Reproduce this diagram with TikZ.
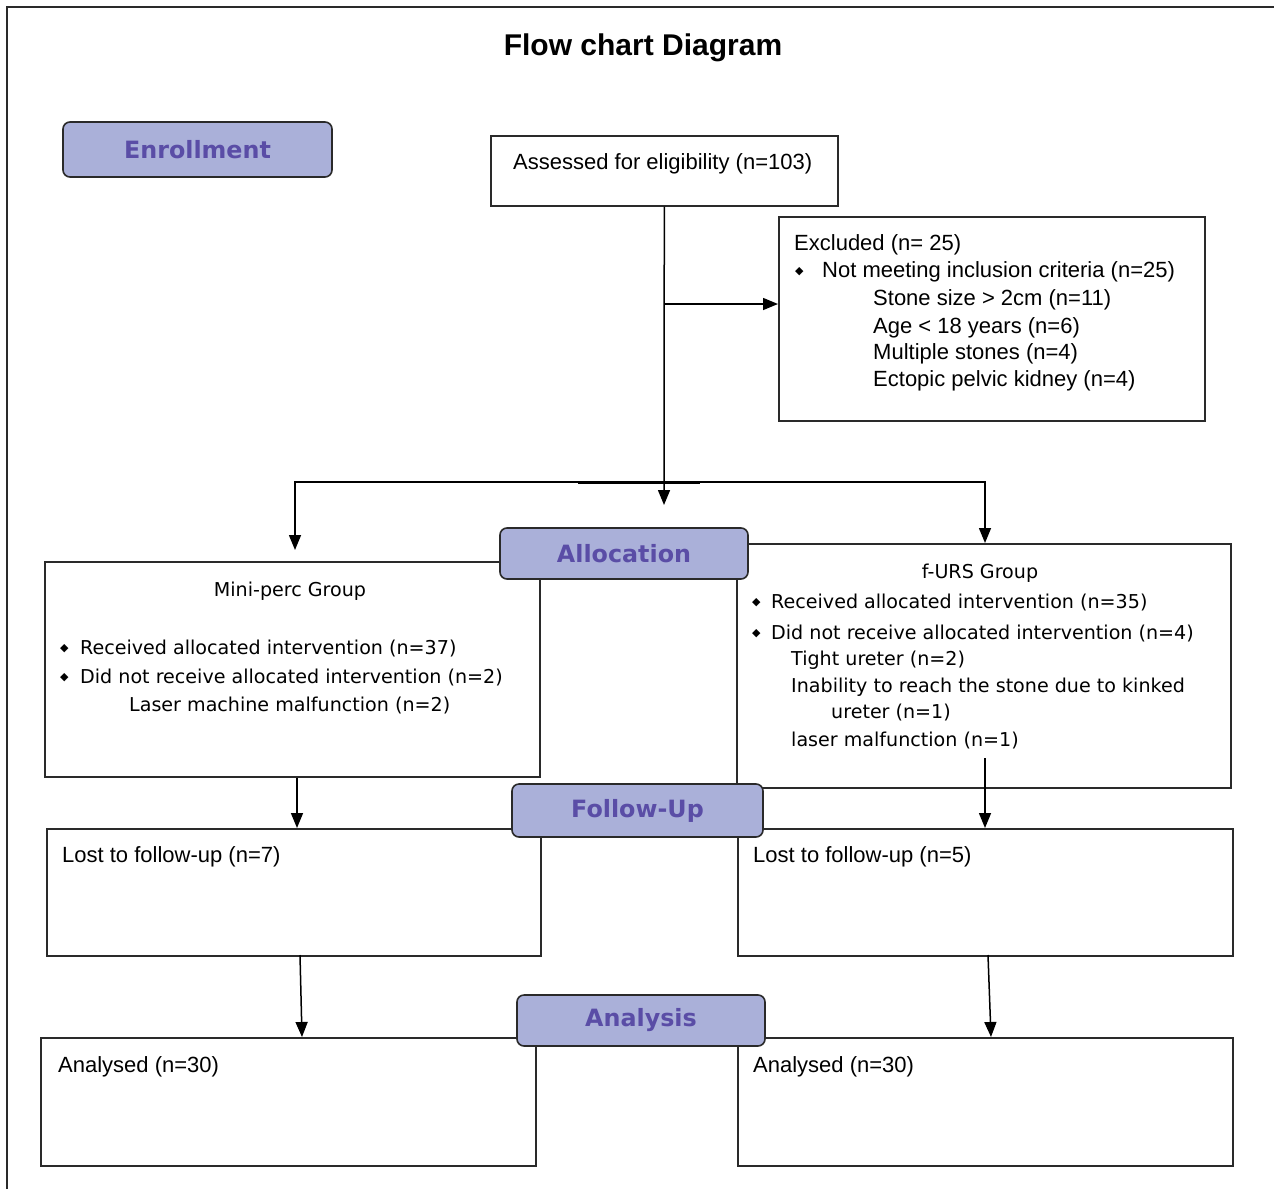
\documentclass[tikz,border=0pt]{standalone}
\usepackage{fontspec}
\setmainfont{Liberation Sans}
\newfontfamily\dvs{DejaVu Sans}
\usetikzlibrary{arrows.meta}
\definecolor{labfill}{HTML}{AAB0D9}
\definecolor{labtext}{HTML}{5A4DA6}
\definecolor{edgec}{HTML}{2A2A2A}
\newcommand{\mybul}[1]{\makebox[#1][l]{\raisebox{2.5pt}{\dvs\fontsize{11}{11}\selectfont ◆}}}
\begin{document}
\begin{tikzpicture}[x=1pt,y=-1pt,
  box/.style={draw=edgec,line width=1.6pt,anchor=north west,inner sep=0pt},
  lab/.style={draw=edgec,line width=1.6pt,fill=labfill,rounded corners=7pt,text=labtext,
     font=\dvs\bfseries\fontsize{23.8}{26}\selectfont,inner sep=0pt},
  txt/.style={anchor=base west,inner sep=0pt,font=\fontsize{22}{26}\selectfont},
  gtxt/.style={anchor=base west,inner sep=0pt,font=\dvs\fontsize{19.1}{24}\selectfont},
  conn/.style={draw=black,line width=1.5pt},
  arr/.style={conn,-{Triangle[length=15pt,width=12pt]}}]
\useasboundingbox (0,0) rectangle (1274,1189);
\draw[edgec,line width=1.5pt] (7,1189) -- (7,7) -- (1274,7);

\node[anchor=base,inner sep=0pt,font=\bfseries\fontsize{30}{34}\selectfont] (title) at (643,55) {Flow chart Diagram};

% boxes
\node[box,minimum width=347pt,minimum height=70pt] (assess) at (490,135) {};
\node[box,minimum width=426pt,minimum height=204pt] (excl) at (778,216) {};
\node[box,minimum width=495pt,minimum height=215pt] (mini) at (44,561) {};
\node[box,minimum width=494pt,minimum height=244pt] (furs) at (736,543) {};
\node[box,minimum width=494pt,minimum height=127pt] (lostL) at (46,828) {};
\node[box,minimum width=495pt,minimum height=127pt] (lostR) at (737,828) {};
\node[box,minimum width=495pt,minimum height=128pt] (anL) at (40,1037) {};
\node[box,minimum width=495pt,minimum height=128pt] (anR) at (737,1037) {};

% texts
\node[txt] (tassess) at (513,169) {Assessed for eligibility (n=103)};
\node[txt] (tex1) at (794,250) {Excluded (n= 25)};
\node[txt] (tex2) at (795,277) {\mybul{27pt}Not meeting inclusion criteria (n=25)};
\node[txt] (tex3) at (873,305) {Stone size > 2cm (n=11)};
\node[txt] (tex4) at (873,333) {Age < 18 years (n=6)};
\node[txt] (tex5) at (873,359) {Multiple stones (n=4)};
\node[txt] (tex6) at (873,386) {Ectopic pelvic kidney (n=4)};

\node[gtxt,anchor=base] (tm1) at (290,596) {Mini-perc Group};
\node[gtxt] (tm2) at (60,654) {\mybul{20pt}Received allocated intervention (n=37)};
\node[gtxt] (tm3) at (60,683) {\mybul{20pt}Did not receive allocated intervention (n=2)};
\node[gtxt] (tm4) at (129,711) {Laser machine malfunction (n=2)};

\node[gtxt,anchor=base] (tf1) at (980,578) {f-URS Group};
\node[gtxt] (tf2) at (752,608) {\mybul{19pt}Received allocated intervention (n=35)};
\node[gtxt] (tf3) at (752,639) {\mybul{19pt}Did not receive allocated intervention (n=4)};
\node[gtxt] (tf4) at (791,665) {Tight ureter (n=2)};
\node[gtxt] (tf5) at (791,692) {Inability to reach the stone due to kinked};
\node[gtxt] (tf6) at (831,718) {ureter (n=1)};
\node[gtxt] (tf7) at (791,746) {laser malfunction (n=1)};

\node[txt] (tlL) at (62,862) {Lost to follow-up (n=7)};
\node[txt] (tlR) at (753,862) {Lost to follow-up (n=5)};
\node[txt] (taL) at (58,1072) {Analysed (n=30)};
\node[txt] (taR) at (753,1072) {Analysed (n=30)};

% connectors
\coordinate (j1) at (664,482);
\coordinate (allocTip) at (664,505);
\coordinate (e1) at (664,304);
\coordinate (lt) at (295,550);
\coordinate (rt) at (985,543);
\coordinate (a1) at (297,0);
\coordinate (fstart) at (985,758);
\coordinate (b1) at (300,955);
\coordinate (b2) at (302,1037);
\coordinate (c1) at (988,955);
\coordinate (c2) at (991,1037);

\draw[arr] (assess.south) -- (allocTip);
\draw[arr] (e1) -- (e1 -| excl.west);
\draw[arr] (j1) -| (lt);
\draw[arr] (j1) -| (rt);
\draw[line width=3pt] (578,482) -- (700,482);
\draw[arr] (a1 |- mini.south) -- (a1 |- lostL.north);
\draw[arr] (fstart) -- (fstart |- lostR.north);
\draw[arr] (b1) -- (b2);
\draw[arr] (c1) -- (c2);

% labels
\node[lab,minimum width=269pt,minimum height=55pt] (enr) at (197.5,149.5) {Enrollment};
\node[lab,minimum width=248pt,minimum height=51pt] (alloc) at (624,553.5) {Allocation};
\node[lab,minimum width=251pt,minimum height=53pt] (fol) at (637.5,810.5) {Follow-Up};
\node[lab,minimum width=248pt,minimum height=51pt] (ana) at (641,1020.5) {Analysis};
\end{tikzpicture}
\end{document}
